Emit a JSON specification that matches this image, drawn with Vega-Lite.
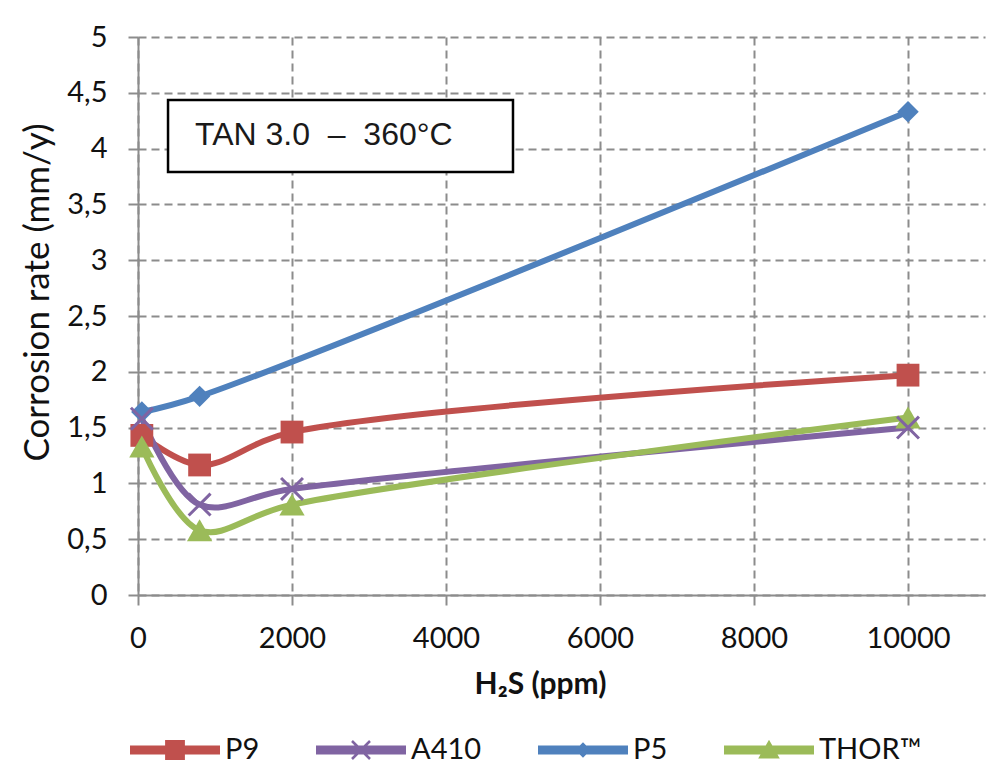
{
  "$schema": "https://vega.github.io/schema/vega-lite/v6.json",
  "width": 847,
  "height": 558,
  "autosize": "none",
  "padding": {"left": 138, "top": 37, "right": 13, "bottom": 176},
  "background": "white",
  "config": {
    "view": {"stroke": null},
    "axis": {
      "grid": true,
      "gridDash": [8, 5],
      "gridColor": "#8c8c8c",
      "gridWidth": 2,
      "domainColor": "#8c8c8c",
      "domainWidth": 2,
      "tickColor": "#8c8c8c",
      "tickWidth": 2,
      "tickSize": 10,
      "labelFont": "Lato",
      "labelFontSize": 29,
      "labelColor": "#111111",
      "titleFont": "Lato",
      "titleColor": "#111111",
      "labelFlush": false
    },
    "legend": {
      "orient": "none",
      "direction": "horizontal",
      "legendX": -8,
      "legendY": 668,
      "padding": 0,
      "symbolSize": 8100,
      "symbolStrokeWidth": 0,
      "symbolOpacity": 1,
      "labelFont": "Lato",
      "labelFontSize": 29,
      "labelColor": "#111111",
      "labelOffset": 5,
      "columnPadding": 56
    }
  },
  "datasets": {
    "series": [
      {"material": "P9", "h2s": 50, "rate": 1.43},
      {"material": "P9", "h2s": 800, "rate": 1.165},
      {"material": "P9", "h2s": 2000, "rate": 1.46},
      {"material": "P9", "h2s": 10000, "rate": 1.97},
      {"material": "A410", "h2s": 50, "rate": 1.58},
      {"material": "A410", "h2s": 800, "rate": 0.81},
      {"material": "A410", "h2s": 2000, "rate": 0.95},
      {"material": "A410", "h2s": 10000, "rate": 1.5},
      {"material": "P5", "h2s": 50, "rate": 1.64},
      {"material": "P5", "h2s": 800, "rate": 1.78},
      {"material": "P5", "h2s": 10000, "rate": 4.33},
      {"material": "THOR™", "h2s": 50, "rate": 1.33},
      {"material": "THOR™", "h2s": 800, "rate": 0.58},
      {"material": "THOR™", "h2s": 2000, "rate": 0.81},
      {"material": "THOR™", "h2s": 10000, "rate": 1.59}
    ],
    "note": [
      {"x1": 390, "x2": 4870, "y1": 3.79, "y2": 4.435, "tx": 740, "ty": 4.03, "label": "TAN 3.0\u00a0 –\u00a0 360°C"}
    ]
  },
  "layer": [
    {
      "data": {"name": "series"},
      "transform": [{"filter": "datum.h2s < 0"}],
      "mark": {"type": "point", "filled": true},
      "encoding": {
        "x": {
          "field": "h2s", "type": "quantitative",
          "scale": {"domain": [0, 11000], "nice": false, "zero": false},
          "axis": {
            "values": [0, 2000, 4000, 6000, 8000, 10000],
            "format": "d",
            "labelPadding": 19,
            "title": "H₂S (ppm)",
            "titleFontSize": 30,
            "titleFontWeight": "bold",
            "titleX": 402,
            "titleY": 98,
            "titleBaseline": "alphabetic"
          }
        },
        "y": {
          "field": "rate", "type": "quantitative",
          "scale": {"domain": [0, 5], "nice": false, "zero": false},
          "axis": {
            "values": [0, 0.5, 1, 1.5, 2, 2.5, 3, 3.5, 4, 4.5, 5],
            "labelExpr": "replace(format(datum.value, '~g'), '.', ',')",
            "labelPadding": 21,
            "title": "Corrosion rate (mm/y)",
            "titleFontSize": 35,
            "titleFontWeight": "normal",
            "titleX": -101,
            "titleY": 255,
            "titleBaseline": "middle"
          }
        },
        "color": {
          "field": "material", "type": "nominal",
          "scale": {"domain": ["P9", "A410", "P5", "THOR™"], "range": ["#C0504D", "#8064A2", "#4F81BD", "#9BBB59"]},
          "legend": {"title": null}
        },
        "shape": {
          "field": "material", "type": "nominal",
          "scale": {
            "domain": ["P9", "A410", "P5", "THOR™"],
            "range": [
              "M-1,-0.1H1V0.1H-1Z M-0.22,-0.22H0.22V0.22H-0.22Z",
              "M-1,-0.1H1V0.1H-1Z M-0.22,-0.18L-0.18,-0.22L0.22,0.18L0.18,0.22Z M0.18,-0.22L0.22,-0.18L-0.18,0.22L-0.22,0.18Z",
              "M-1,-0.1H1V0.1H-1Z M0,-0.17L0.17,0L0,0.17L-0.17,0Z",
              "M-1,-0.1H1V0.1H-1Z M0,-0.23L0.24,0.19L-0.24,0.19Z"
            ]
          },
          "legend": {"title": null}
        }
      }
    },
    {
      "data": {"name": "series"},
      "mark": {"type": "line", "strokeWidth": 6, "interpolate": "catmull-rom", "strokeCap": "round"},
      "encoding": {
        "x": {"field": "h2s", "type": "quantitative", "scale": {"domain": [0, 11000], "nice": false, "zero": false}},
        "y": {"field": "rate", "type": "quantitative", "scale": {"domain": [0, 5], "nice": false, "zero": false}},
        "color": {"field": "material", "type": "nominal", "legend": null}
      }
    },
    {
      "data": {"name": "series"},
      "transform": [{"filter": "datum.material === 'P9'"}],
      "mark": {"type": "point", "filled": true, "shape": "square", "size": 520, "opacity": 1},
      "encoding": {
        "x": {"field": "h2s", "type": "quantitative", "scale": {"domain": [0, 11000], "nice": false, "zero": false}},
        "y": {"field": "rate", "type": "quantitative", "scale": {"domain": [0, 5], "nice": false, "zero": false}},
        "color": {"field": "material", "type": "nominal", "legend": null}
      }
    },
    {
      "data": {"name": "series"},
      "transform": [{"filter": "datum.material === 'P5'"}],
      "mark": {"type": "point", "filled": true, "shape": "diamond", "size": 460, "opacity": 1},
      "encoding": {
        "x": {"field": "h2s", "type": "quantitative", "scale": {"domain": [0, 11000], "nice": false, "zero": false}},
        "y": {"field": "rate", "type": "quantitative", "scale": {"domain": [0, 5], "nice": false, "zero": false}},
        "color": {"field": "material", "type": "nominal", "legend": null}
      }
    },
    {
      "data": {"name": "series"},
      "transform": [{"filter": "datum.material === 'THOR™'"}],
      "mark": {"type": "point", "filled": true, "shape": "triangle-up", "size": 640, "opacity": 1},
      "encoding": {
        "x": {"field": "h2s", "type": "quantitative", "scale": {"domain": [0, 11000], "nice": false, "zero": false}},
        "y": {"field": "rate", "type": "quantitative", "scale": {"domain": [0, 5], "nice": false, "zero": false}},
        "color": {"field": "material", "type": "nominal", "legend": null}
      }
    },
    {
      "data": {"name": "series"},
      "transform": [{"filter": "datum.material === 'A410'"}],
      "mark": {"type": "point", "filled": false, "size": 480, "strokeWidth": 3, "opacity": 1, "shape": "M-1,-1L1,1M1,-1L-1,1"},
      "encoding": {
        "x": {"field": "h2s", "type": "quantitative", "scale": {"domain": [0, 11000], "nice": false, "zero": false}},
        "y": {"field": "rate", "type": "quantitative", "scale": {"domain": [0, 5], "nice": false, "zero": false}},
        "color": {"field": "material", "type": "nominal", "legend": null}
      }
    },
    {
      "data": {"name": "note"},
      "mark": {"type": "rect", "fill": "white", "stroke": "black", "strokeWidth": 2.5},
      "encoding": {
        "x": {"field": "x1", "type": "quantitative", "scale": {"domain": [0, 11000], "nice": false, "zero": false}},
        "x2": {"field": "x2"},
        "y": {"field": "y1", "type": "quantitative", "scale": {"domain": [0, 5], "nice": false, "zero": false}},
        "y2": {"field": "y2"}
      }
    },
    {
      "data": {"name": "note"},
      "mark": {"type": "text", "font": "Liberation Sans", "fontSize": 32, "align": "left", "baseline": "alphabetic", "color": "#1a1a1a"},
      "encoding": {
        "x": {"field": "tx", "type": "quantitative", "scale": {"domain": [0, 11000], "nice": false, "zero": false}},
        "y": {"field": "ty", "type": "quantitative", "scale": {"domain": [0, 5], "nice": false, "zero": false}},
        "text": {"field": "label"}
      }
    }
  ]
}
